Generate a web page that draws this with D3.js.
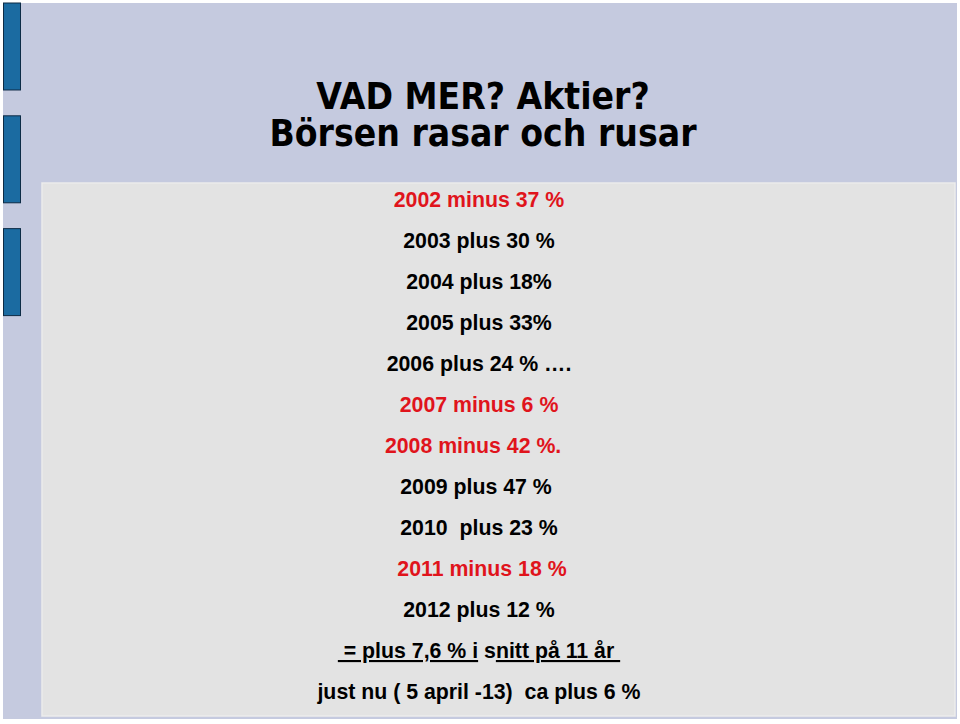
<!DOCTYPE html>
<html lang="sv">
<head>
<meta charset="UTF-8">
<title>VAD MER? Aktier?</title>
<script src="https://cdn.jsdelivr.net/npm/d3@7/dist/d3.min.js"></script>
<style>
  html, body { margin: 0; padding: 0; background: #fff; }
  svg text { white-space: pre; }
</style>
</head>
<body>
<div id="slide"></div>
<script>
// slide texts
const titleLines = ["VAD MER? Aktier?", "Börsen rasar och rusar"];
const yearLines = [
  "2002 minus 37 %",
  "2003 plus 30 %",
  "2004 plus 18%",
  "2005 plus 33%",
  "2006 plus 24 % \u2026.",
  "2007 minus 6 %",
  "2008 minus 42 %.  ",
  "2009 plus 47 % ",
  "2010  plus 23 %",
  " 2011 minus 18 %",
  "2012 plus 12 %"
];
const yearKinds = ["minus", "plus", "plus", "plus", "plus", "minus", "minus", "plus", "plus", "minus", "plus"];
const summaryParts = [" = plus 7,6 % i", " s", "nitt p\u00e5 11 \u00e5r "];
const summaryUnderlined = [true, false, true];
const footLine = "just nu ( 5 april -13)  ca plus 6 %";
const sideBars = [0, 1, 2];

const width = 960, height = 724;

const svg = d3.select("#slide").append("svg")
    .attr("width", width)
    .attr("height", height)
    .attr("viewBox", `0 0 ${width} ${height}`);

// background
svg.append("rect")
    .attr("x", 3).attr("y", 3)
    .attr("width", 954).attr("height", 716)
    .attr("fill", "#c5cadf");

svg.append("rect")
    .attr("x", 42).attr("y", 183)
    .attr("width", 913).attr("height", 533)
    .attr("fill", "#e3e3e3")
    .attr("stroke", "#ececec")
    .attr("stroke-width", 1.5);

// blue tabs on the left
const barY = d3.scaleBand()
    .domain(sideBars)
    .range([3, 315.6])
    .paddingInner(0.229);

svg.selectAll("rect.tab")
    .data(sideBars)
    .join("rect")
    .attr("class", "tab")
    .attr("x", 3.5)
    .attr("y", d => barY(d))
    .attr("width", 17)
    .attr("height", barY.bandwidth())
    .attr("fill", "#1b6ba1")
    .attr("stroke", "#0d2b45")
    .attr("stroke-width", 1);

// title, two lines in one text block
const titleY = d3.scaleLinear().domain([0, 1]).range([109, 146]);
const title = svg.append("text")
    .attr("transform", "translate(483,0) scale(0.91,1)")
    .attr("text-anchor", "middle")
    .attr("font-family", "'DejaVu Sans', Verdana, sans-serif")
    .attr("font-weight", "bold")
    .attr("font-size", 36.5)
    .attr("fill", "#000");

title.selectAll("tspan")
    .data(titleLines)
    .join("tspan")
    .attr("x", 0)
    .attr("y", (d, i) => titleY(i))
    .text(d => d);

// body lines
const lineY = d3.scaleLinear().domain([0, 12]).range([207, 699]);
const kindColor = d3.scaleOrdinal()
    .domain(["minus", "plus"])
    .range(["#e0141c", "#000000"]);

const cx = 479;
const bodyFont = "'Liberation Sans', Arial, sans-serif";
const bodySize = 21.3;

svg.selectAll("text.year")
    .data(yearLines)
    .join("text")
    .attr("class", "year")
    .attr("x", cx)
    .attr("y", (d, i) => lineY(i))
    .attr("text-anchor", "middle")
    .attr("font-family", bodyFont)
    .attr("font-weight", "bold")
    .attr("font-size", bodySize)
    .attr("fill", (d, i) => kindColor(yearKinds[i]))
    .text(d => d);

// average line, partly underlined
const summary = svg.append("text")
    .attr("x", cx)
    .attr("y", lineY(11))
    .attr("text-anchor", "middle")
    .attr("font-family", bodyFont)
    .attr("font-weight", "bold")
    .attr("font-size", bodySize)
    .attr("fill", "#000");

summary.selectAll("tspan")
    .data(summaryParts)
    .join("tspan")
    .attr("text-decoration", (d, i) => summaryUnderlined[i] ? "underline" : "none")
    .text(d => d);

svg.append("text")
    .attr("x", cx)
    .attr("y", lineY(12))
    .attr("text-anchor", "middle")
    .attr("font-family", bodyFont)
    .attr("font-weight", "bold")
    .attr("font-size", bodySize)
    .attr("fill", "#000")
    .text(footLine);
</script>
</body>
</html>
